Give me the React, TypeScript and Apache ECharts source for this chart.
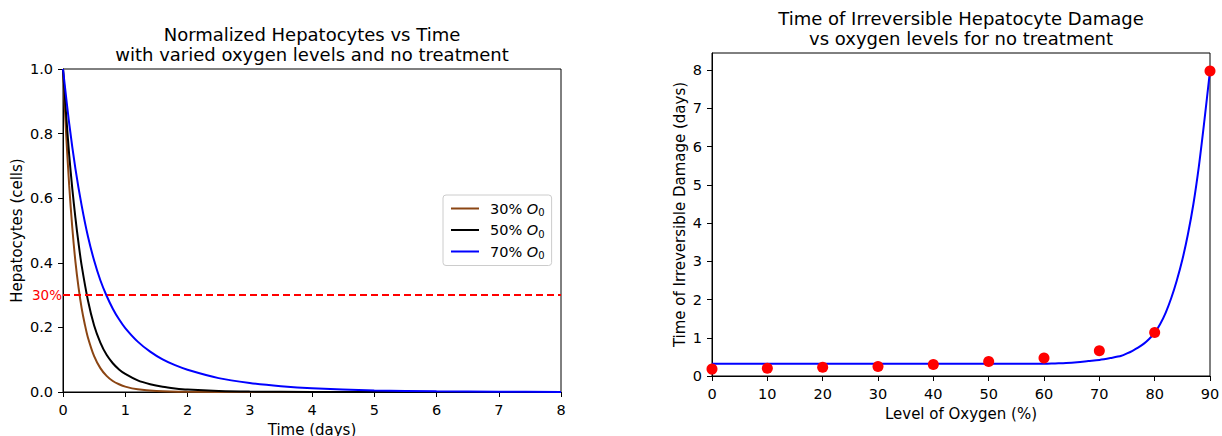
import React, { useEffect, useRef } from "react";
import * as echarts from "echarts";

// ---- Left chart data ----
const t30 = [0, 0.05, 0.1, 0.15, 0.2, 0.25, 0.3, 0.35, 0.4, 0.5, 0.6, 0.7, 0.8, 0.9, 1.0, 1.2, 1.5, 2, 3, 8];
const h30 = [1, 0.8, 0.638, 0.507, 0.403, 0.323, 0.259, 0.21, 0.169, 0.111, 0.074, 0.05, 0.034, 0.024, 0.0166, 0.0082, 0.003, 0.0006, 0, 0];
const t50 = [0, 0.05, 0.1, 0.15, 0.2, 0.25, 0.3, 0.4, 0.5, 0.6, 0.7, 0.8, 0.9, 1.0, 1.2, 1.4, 1.6, 1.8, 2.0, 2.5, 3, 4, 8];
const h50 = [1, 0.86, 0.733, 0.628, 0.538, 0.46, 0.391, 0.284, 0.206, 0.153, 0.115, 0.089, 0.07, 0.056, 0.036, 0.024, 0.016, 0.011, 0.0074, 0.003, 0.0012, 0.0002, 0];
const t70 = [0, 0.1, 0.2, 0.3, 0.4, 0.5, 0.6, 0.7, 0.8, 0.9, 1.0, 1.2, 1.4, 1.6, 1.8, 2.0, 2.5, 3, 3.5, 4, 5, 6, 7, 8];
const h70 = [1, 0.831, 0.691, 0.577, 0.482, 0.407, 0.346, 0.298, 0.258, 0.225, 0.198, 0.156, 0.125, 0.101, 0.083, 0.069, 0.043, 0.028, 0.018, 0.0115, 0.0048, 0.002, 0.00085, 0.00036];
const legendNames = ["30% O0", "50% O0", "70% O0"];
const threshold = 0.3;

// ---- Right chart data ----
const oxygenPts = [0, 10, 20, 30, 40, 50, 60, 70, 80, 90];
const damagePts = [0.18, 0.2, 0.23, 0.25, 0.3, 0.38, 0.47, 0.66, 1.14, 7.98];
const fitX = [0, 20, 40, 60, 62, 64, 66, 68, 70, 72, 74, 75, 76, 77, 78, 79, 80, 81, 82, 83, 84, 85, 86, 87, 88, 89, 90];
const fitY = [0.32, 0.32, 0.32, 0.32, 0.33, 0.34, 0.36, 0.39, 0.42, 0.47, 0.53, 0.59, 0.66, 0.74, 0.84, 0.97, 1.13, 1.36, 1.66, 2.04, 2.5, 3.04, 3.7, 4.5, 5.5, 6.7, 7.98];
const yTicksRight = [0, 1, 2, 3, 4, 5, 6, 7, 8];

const zip = (a: number[], b: number[]) => a.map((v, i) => [v, b[i]]);

const FONT = "DejaVu Sans";
const TICK = 14.5;
const NAME = 15;
const TITLE = 18;

export default function App() {
  const ref = useRef<HTMLDivElement>(null);
  useEffect(() => {
    document.body.style.margin = "0";
    const chart = echarts.init(ref.current!, null, { renderer: "svg" });
    const axisCommon = {
      axisLine: { show: true, lineStyle: { color: "#000", width: 1 } },
      axisTick: { show: true, inside: false, length: 5, lineStyle: { color: "#000" } },
      axisLabel: { color: "#000", fontSize: TICK, fontFamily: FONT, margin: 10 },
      splitLine: { show: false },
      nameTextStyle: { color: "#000", fontSize: NAME, fontFamily: FONT },
    };
    chart.setOption({
      animation: false,
      textStyle: { fontFamily: FONT },
      title: [
        {
          text: "Normalized Hepatocytes vs Time\nwith varied oxygen levels and no treatment",
          left: 312,
          top: 24,
          padding: 0,
          textAlign: "center",
          textStyle: { fontSize: TITLE, fontWeight: "normal", color: "#000", lineHeight: 20, fontFamily: FONT },
        },
        {
          text: "Time of Irreversible Hepatocyte Damage\nvs oxygen levels for no treatment",
          left: 961,
          top: 8,
          padding: 0,
          textAlign: "center",
          textStyle: { fontSize: TITLE, fontWeight: "normal", color: "#000", lineHeight: 20, fontFamily: FONT },
        },
      ],
      grid: [
        { left: 63, right: 661, top: 69, bottom: 44, show: true, borderColor: "#000", borderWidth: 1, containLabel: false, outerBoundsMode: "none" },
        { left: 712, right: 12, top: 53, bottom: 60, show: true, borderColor: "#000", borderWidth: 1, containLabel: false, outerBoundsMode: "none" },
      ],
      xAxis: [
        {
          ...axisCommon,
          type: "value",
          gridIndex: 0,
          min: 0,
          max: 8,
          interval: 1,
          name: "Time (days)",
          nameLocation: "middle",
          nameGap: 25,
          nameTextStyle: { color: "#000", fontSize: NAME, fontFamily: FONT, lineHeight: 16 },
        },
        {
          ...axisCommon,
          type: "value",
          gridIndex: 1,
          min: 0,
          max: 90,
          interval: 10,
          name: "Level of Oxygen (%)",
          nameLocation: "middle",
          nameGap: 30,
        },
      ],
      yAxis: [
        {
          ...axisCommon,
          type: "value",
          gridIndex: 0,
          min: 0,
          max: 1,
          interval: 0.2,
          axisLabel: { ...axisCommon.axisLabel, formatter: (v: number) => v.toFixed(1) },
          name: "Hepatocytes (cells)",
          nameLocation: "middle",
          nameGap: 39,
        },
        {
          ...axisCommon,
          type: "value",
          gridIndex: 1,
          min: 0,
          max: 8.45,
          interval: 1,
          axisTick: { ...axisCommon.axisTick, customValues: yTicksRight },
          axisLabel: { ...axisCommon.axisLabel, customValues: yTicksRight },
          name: "Time of Irreversible Damage (days)",
          nameLocation: "middle",
          nameGap: 25,
        },
      ],
      legend: {
        data: legendNames,
        orient: "vertical",
        left: 443,
        top: 195,
        padding: [6, 7, 5, 8],
        itemGap: 5,
        itemWidth: 28,
        itemHeight: 2,
        icon: "rect",
        borderColor: "#ccc",
        borderWidth: 1,
        borderRadius: 3,
        backgroundColor: "#fff",
        formatter: (name: string) => name.replace(" O0", " {i|O}{s|0}"),
        textStyle: {
          color: "#000",
          fontSize: TICK,
          fontFamily: FONT,
          padding: [0, 0, 0, 6],
          rich: {
            i: { fontStyle: "italic", fontSize: TICK, fontFamily: FONT, color: "#000" },
            s: { fontSize: 10, fontFamily: FONT, color: "#000", padding: [8, 0, 0, 0] },
          },
        },
      },
      series: [
        {
          name: legendNames[0],
          type: "line",
          xAxisIndex: 0,
          yAxisIndex: 0,
          data: zip(t30, h30),
          smooth: 0.3,
          symbol: "none",
          lineStyle: { color: "#8B4513", width: 2 },
          itemStyle: { color: "#8B4513" },
          z: 3,
        },
        {
          name: legendNames[1],
          type: "line",
          xAxisIndex: 0,
          yAxisIndex: 0,
          data: zip(t50, h50),
          smooth: 0.3,
          symbol: "none",
          lineStyle: { color: "#000", width: 2 },
          itemStyle: { color: "#000" },
          z: 3,
        },
        {
          name: legendNames[2],
          type: "line",
          xAxisIndex: 0,
          yAxisIndex: 0,
          data: zip(t70, h70),
          smooth: 0.3,
          symbol: "none",
          lineStyle: { color: "#0000ff", width: 2 },
          itemStyle: { color: "#0000ff" },
          z: 3,
          markLine: {
            silent: true,
            symbol: "none",
            data: [{ yAxis: threshold }],
            lineStyle: { color: "#ff0000", type: [7, 4], width: 2 },
            label: {
              show: true,
              position: "start",
              formatter: "30%",
              color: "#ff0000",
              fontSize: 13.5,
              fontFamily: FONT,
              distance: 1,
            },
          },
        },
        {
          name: "fit",
          type: "line",
          xAxisIndex: 1,
          yAxisIndex: 1,
          data: zip(fitX, fitY),
          smooth: 0.3,
          symbol: "none",
          lineStyle: { color: "#0000ff", width: 2 },
          z: 3,
        },
        {
          name: "sim",
          type: "scatter",
          xAxisIndex: 1,
          yAxisIndex: 1,
          data: zip(oxygenPts, damagePts),
          symbolSize: 11,
          itemStyle: { color: "#ff0000", opacity: 1 },
          z: 4,
        },
      ],
    });
    return () => chart.dispose();
  }, []);
  return <div ref={ref} style={{ width: 1222, height: 436 }} />;
}
